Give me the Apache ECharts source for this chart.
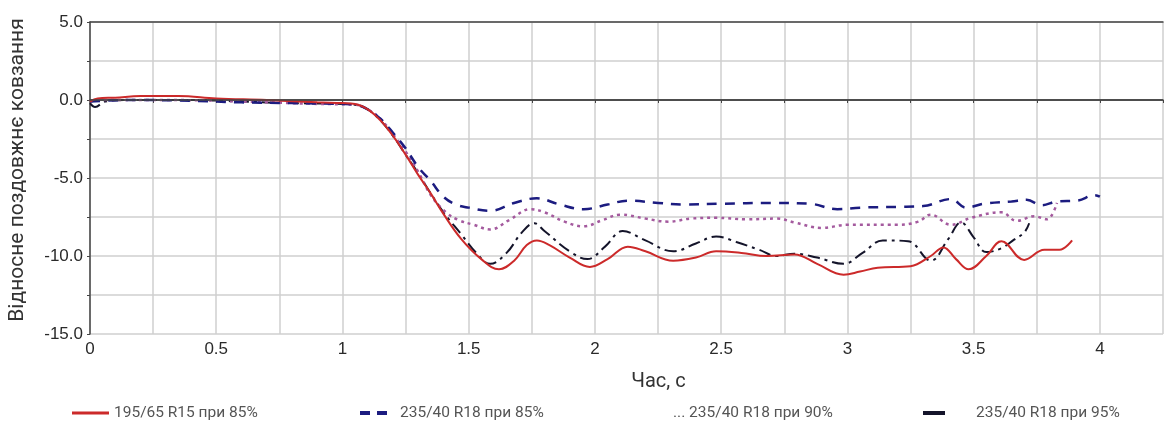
<!DOCTYPE html>
<html>
<head>
<meta charset="utf-8">
<script src="https://cdn.jsdelivr.net/npm/echarts@6/dist/echarts.min.js"></script>
<style>
  html, body { margin: 0; padding: 0; background: #fff; }
  #chart { width: 1166px; height: 421px; }
</style>
</head>
<body>
<div id="chart"></div>
<script>
// 195/65 R15 при 85%
const redT = [0, 0.03, 0.1, 0.2, 0.35, 0.5, 0.7, 0.9, 1.0, 1.05, 1.1, 1.15, 1.2, 1.25, 1.3, 1.35, 1.4, 1.47, 1.55, 1.62, 1.68, 1.73, 1.77, 1.82, 1.9, 1.98, 2.05, 2.13, 2.2, 2.31, 2.4, 2.48, 2.58, 2.68, 2.79, 2.88, 2.985, 3.05, 3.12, 3.25, 3.33, 3.38, 3.43, 3.48, 3.55, 3.61, 3.7, 3.78, 3.84, 3.89]
const redV = [-0.1, 0.1, 0.15, 0.25, 0.25, 0.1, 0.0, -0.15, -0.2, -0.25, -0.6, -1.3, -2.3, -3.5, -4.8, -6.0, -7.3, -8.9, -10.2, -10.85, -10.3, -9.3, -9.0, -9.3, -10.1, -10.7, -10.2, -9.4, -9.7, -10.3, -10.1, -9.7, -9.8, -10.0, -9.9, -10.5, -11.2, -11.0, -10.75, -10.65, -10.0, -9.45, -10.2, -10.85, -10.0, -9.05, -10.25, -9.6, -9.6, -9.0]

// 235/40 R18 при 85%
const blueT = [0, 0.05, 0.2, 0.4, 0.6, 0.8, 1.0, 1.05, 1.1, 1.15, 1.2, 1.25, 1.3, 1.35, 1.4, 1.45, 1.5, 1.585, 1.68, 1.77, 1.86, 1.955, 2.05, 2.13, 2.25, 2.35, 2.5, 2.7, 2.85, 2.96, 3.05, 3.2, 3.3, 3.41, 3.47, 3.54, 3.65, 3.71, 3.77, 3.83, 3.91, 3.98, 4.0]
const blueV = [-0.1, -0.05, 0.0, -0.05, -0.15, -0.2, -0.25, -0.3, -0.6, -1.2, -2.1, -3.1, -4.3, -5.2, -6.2, -6.7, -6.9, -7.1, -6.6, -6.3, -6.7, -7.0, -6.7, -6.45, -6.6, -6.7, -6.65, -6.6, -6.65, -7.0, -6.9, -6.85, -6.8, -6.35, -6.9, -6.65, -6.5, -6.4, -6.75, -6.5, -6.45, -6.1, -6.2]

// 235/40 R18 при 90%
const pinkT = [0, 0.05, 0.3, 0.5, 0.7, 0.9, 1.05, 1.1, 1.15, 1.2, 1.25, 1.3, 1.35, 1.41, 1.46, 1.52, 1.585, 1.66, 1.745, 1.8, 1.88, 1.955, 2.03, 2.1, 2.2, 2.29, 2.38, 2.48, 2.6, 2.72, 2.79, 2.9, 3.0, 3.2, 3.28, 3.33, 3.41, 3.49, 3.61, 3.67, 3.74, 3.79, 3.83]
const pinkV = [-0.1, 0.0, 0.0, -0.05, -0.15, -0.25, -0.3, -0.6, -1.2, -2.2, -3.3, -4.6, -6.1, -7.2, -7.7, -8.0, -8.3, -7.7, -7.0, -7.2, -7.8, -8.1, -7.7, -7.35, -7.6, -7.8, -7.6, -7.55, -7.65, -7.6, -7.85, -8.2, -8.0, -8.0, -7.8, -7.35, -8.0, -7.55, -7.2, -7.75, -7.45, -7.65, -6.6]

// 235/40 R18 при 95%
const blackT = [0, 0.02, 0.06, 0.15, 0.4, 0.6, 0.8, 1.0, 1.05, 1.1, 1.15, 1.2, 1.25, 1.3, 1.35, 1.4, 1.47, 1.53, 1.585, 1.65, 1.71, 1.76, 1.8, 1.9, 1.97, 2.04, 2.11, 2.2, 2.31, 2.4, 2.48, 2.56, 2.65, 2.72, 2.79, 2.88, 2.985, 3.06, 3.14, 3.24, 3.33, 3.4, 3.45, 3.5, 3.55, 3.61, 3.66, 3.7, 3.72]
const blackV = [-0.2, -0.45, -0.1, 0.0, 0.0, -0.1, -0.2, -0.25, -0.3, -0.6, -1.3, -2.3, -3.5, -4.7, -6.0, -7.2, -8.6, -9.8, -10.5, -9.8, -8.5, -7.9, -8.4, -9.7, -10.2, -9.4, -8.4, -9.0, -9.7, -9.2, -8.75, -9.1, -9.6, -10.0, -9.85, -10.1, -10.5, -9.8, -9.0, -9.05, -10.3, -8.9, -7.85, -8.8, -9.75, -9.5, -8.95, -8.5, -7.9]

const seriesNames = ['195/65 R15 при 85%', '235/40 R18 при 85%', '235/40 R18 при 90%', '235/40 R18 при 95%']

const pairs = (t, v) => t.map((x, i) => [x, v[i]])

const chart = echarts.init(document.getElementById('chart'))

const axisFont = { fontFamily: 'Liberation Sans', fontSize: 17, color: '#2a2a2a' }
const legendFont = { fontFamily: 'Roboto', fontSize: 15.5, color: '#555' }

const option = {
  animation: false,
  grid: { left: 90, right: 3, top: 22, bottom: 87, outerBoundsMode: 'none' },
  xAxis: [
    {
      type: 'value',
      min: 0,
      max: 4.25,
      interval: 0.25,
      name: 'Час, с',
      nameLocation: 'middle',
      nameGap: 38,
      nameTextStyle: { fontFamily: 'Roboto', fontSize: 20, color: '#333', padding: [0, 0, 0, 64] },
      axisLine: { lineStyle: { color: '#444', width: 1.5 } },
      axisTick: { show: true, length: 3, lineStyle: { color: '#444' } },
      axisLabel: Object.assign({
        margin: 7,
        formatter: v => (Math.round(v * 4) % 2 === 0 ? String(v) : '')
      }, axisFont),
      splitLine: { show: true, lineStyle: { color: '#cfcfcf', width: 1.5 } }
    },
    {
      // верхня рамка
      type: 'value',
      position: 'top',
      min: 0,
      max: 4.25,
      axisLine: { show: true, lineStyle: { color: '#444', width: 1.5 } },
      axisTick: { show: false },
      axisLabel: { show: false },
      splitLine: { show: false }
    }
  ],
  yAxis: {
    type: 'value',
    min: -15,
    max: 5,
    interval: 2.5,
    name: 'Відносне поздовжнє ковзання',
    nameLocation: 'middle',
    nameGap: 62,
    nameTextStyle: { fontFamily: 'Roboto', fontSize: 21, color: '#333', padding: [0, 0, 0, 16] },
    axisLine: { show: true, lineStyle: { color: '#444', width: 1.5 } },
    axisTick: { show: true, length: 3, lineStyle: { color: '#444' } },
    axisLabel: Object.assign({
      margin: 7,
      formatter: v => (Math.round(v * 2) % 10 === 0 ? v.toFixed(1) : '')
    }, axisFont),
    splitLine: { show: true, lineStyle: { color: '#cfcfcf', width: 1.5 } }
  },
  legend: [
    {
      data: [seriesNames[0]], left: 67, top: 400,
      icon: 'rect', itemWidth: 37, itemHeight: 3, itemGap: 0,
      textStyle: legendFont
    },
    {
      data: [seriesNames[1]], left: 355, top: 400,
      icon: 'path://M0,0H10V4H0Z M17,0H27V4H17Z', itemWidth: 27, itemHeight: 4,
      textStyle: Object.assign({ padding: [0, 0, 0, 8] }, legendFont)
    },
    {
      data: [seriesNames[2]], left: 662, top: 400,
      icon: 'rect', itemWidth: 1, itemHeight: 1,
      itemStyle: { opacity: 0 },
      formatter: '... {name}',
      textStyle: legendFont
    },
    {
      data: [seriesNames[3]], left: 918, top: 400,
      icon: 'rect', itemWidth: 22, itemHeight: 4,
      textStyle: Object.assign({ padding: [0, 0, 0, 26] }, legendFont)
    }
  ],
  series: [
    {
      name: seriesNames[3],
      type: 'line',
      data: pairs(blackT, blackV),
      smooth: 0.4,
      showSymbol: false,
      color: '#14142a',
      lineStyle: { width: 2, type: [12, 5, 3, 5], color: '#14142a' }
    },
    {
      name: seriesNames[2],
      type: 'line',
      data: pairs(pinkT, pinkV),
      smooth: 0.4,
      showSymbol: false,
      color: '#a45a9e',
      lineStyle: { width: 2.5, type: [3, 4], color: '#a45a9e' }
    },
    {
      name: seriesNames[1],
      type: 'line',
      data: pairs(blueT, blueV),
      smooth: 0.4,
      showSymbol: false,
      color: '#1c1c80',
      lineStyle: { width: 2.5, type: [10, 8], color: '#1c1c80' }
    },
    {
      name: seriesNames[0],
      type: 'line',
      data: pairs(redT, redV),
      smooth: 0.4,
      showSymbol: false,
      color: '#cc2a2a',
      lineStyle: { width: 2, color: '#cc2a2a' },
      markLine: {
        silent: true,
        symbol: 'none',
        label: { show: false },
        lineStyle: { color: '#444', width: 1.5, type: 'solid' },
        data: [{ yAxis: 0 }]
      }
    }
  ]
}

chart.setOption(option)
</script>
</body>
</html>
